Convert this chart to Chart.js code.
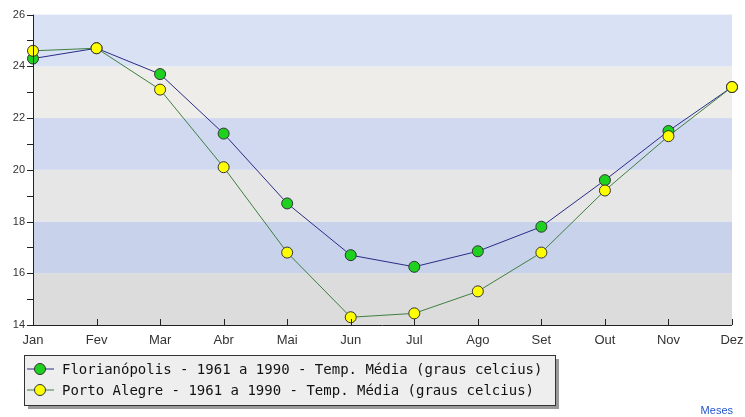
<!DOCTYPE html>
<html lang="pt">
<head>
  <meta charset="UTF-8">
  <title>Temperatura média</title>
  <script src="https://cdn.jsdelivr.net/npm/chart.js"></script>
  <style>
    html, body { margin: 0; padding: 0; background: #fff; }
    #wrap { position: relative; width: 745px; height: 417px; }
  </style>
</head>
<body>
  <div id="wrap"><canvas id="myChart" width="745" height="417"></canvas></div>

  <script>
    // meses e valores
    const meses = ['Jan', 'Fev', 'Mar', 'Abr', 'Mai', 'Jun', 'Jul', 'Ago', 'Set', 'Out', 'Nov', 'Dez'];
    const florianopolis = [24.3, 24.7, 23.7, 21.4, 18.7, 16.7, 16.25, 16.85, 17.8, 19.6, 21.5, 23.2];
    const portoAlegre = [24.6, 24.7, 23.1, 20.1, 16.8, 14.3, 14.45, 15.3, 16.8, 19.2, 21.3, 23.2];
    const nomes = [
      'Florianópolis - 1961 a 1990 - Temp. Média (graus celcius)',
      'Porto Alegre - 1961 a 1990 - Temp. Média (graus celcius)'
    ];
    const faixas = [14, 16, 18, 20, 22, 24, 26];
    const coresFaixas = ['#dcdcdc', '#c8d2ea', '#e6e6e6', '#d0d9f0', '#eeede9', '#d9e1f5'];

    // faixas de fundo
    const fundo = {
      id: 'fundo',
      beforeDatasetsDraw(chart) {
        const { ctx, chartArea: a, scales: { y } } = chart;
        ctx.save();
        for (let i = 0; i < faixas.length - 1; i++) {
          const y0 = y.getPixelForValue(faixas[i]);
          const y1 = y.getPixelForValue(faixas[i + 1]);
          ctx.fillStyle = coresFaixas[i];
          ctx.fillRect(a.left, y1, a.right - a.left, y0 - y1);
        }
        ctx.restore();
      },
      afterDatasetsDraw(chart) {
        const { ctx, chartArea: a, scales: { x, y } } = chart;
        ctx.save();
        ctx.strokeStyle = '#222';
        ctx.lineWidth = 1;
        // eixo y
        ctx.beginPath();
        ctx.moveTo(a.left + 0.5, a.top);
        ctx.lineTo(a.left + 0.5, a.bottom);
        for (let v = 14; v <= 26; v++) {
          const py = Math.round(y.getPixelForValue(v)) + 0.5;
          ctx.moveTo(a.left - 6, py);
          ctx.lineTo(a.left, py);
        }
        // eixo x, marcas para dentro
        ctx.moveTo(a.left, a.bottom + 0.5);
        ctx.lineTo(a.right, a.bottom + 0.5);
        meses.forEach((m, i) => {
          const px = Math.round(x.getPixelForValue(i)) + 0.5;
          ctx.moveTo(px, a.bottom);
          ctx.lineTo(px, a.bottom - 6);
        });
        ctx.stroke();
        ctx.restore();
      },
      afterDraw(chart) {
        const { ctx } = chart;
        const ds = chart.data.datasets;
        ctx.save();
        // legenda com sombra
        const lx = 24, ly = 355, lw = 531, lh = 50;
        ctx.fillStyle = '#9a9a9a';
        ctx.fillRect(lx + 4, ly + 4, lw, lh);
        ctx.fillStyle = '#eeeeee';
        ctx.fillRect(lx, ly, lw, lh);
        ctx.strokeStyle = '#333';
        ctx.lineWidth = 1;
        ctx.strokeRect(lx + 0.5, ly + 0.5, lw, lh);
        ctx.font = '14px "DejaVu Sans Mono", monospace';
        ctx.textBaseline = 'middle';
        ds.forEach((d, i) => {
          const cy = ly + 14 + i * 21;
          ctx.strokeStyle = d.borderColor;
          ctx.beginPath();
          ctx.moveTo(lx + 3, cy);
          ctx.lineTo(lx + 30, cy);
          ctx.stroke();
          ctx.beginPath();
          ctx.arc(lx + 16, cy, 5.5, 0, Math.PI * 2);
          ctx.fillStyle = d.pointBackgroundColor;
          ctx.fill();
          ctx.strokeStyle = '#333';
          ctx.stroke();
          ctx.fillStyle = '#111';
          ctx.fillText(d.label, lx + 38, cy + 1);
        });
        // titulo do eixo x
        ctx.font = '11px "Liberation Sans", Arial, sans-serif';
        ctx.fillStyle = '#2255cc';
        ctx.textAlign = 'right';
        ctx.textBaseline = 'alphabetic';
        ctx.fillText('Meses', 733, 414);
        ctx.restore();
      }
    };

    const ctx = document.getElementById('myChart').getContext('2d');
    const myChart = new Chart(ctx, {
      type: 'line',
      data: {
        labels: meses,
        datasets: [
          {
            label: nomes[0],
            data: florianopolis,
            borderColor: '#2a2d86',
            borderWidth: 1,
            pointRadius: 5.5,
            pointBackgroundColor: '#1fd11f',
            pointBorderColor: '#333',
            pointBorderWidth: 1,
            tension: 0,
            order: 1
          },
          {
            label: nomes[1],
            data: portoAlegre,
            borderColor: '#3f7f3f',
            borderWidth: 1,
            pointRadius: 5.5,
            pointBackgroundColor: '#ffff00',
            pointBorderColor: '#333',
            pointBorderWidth: 1,
            tension: 0,
            order: 0
          }
        ]
      },
      options: {
        responsive: false,
        animation: false,
        layout: { padding: { top: 14, right: 0, left: 0, bottom: 0 } },
        plugins: {
          legend: { display: false },
          tooltip: { enabled: false }
        },
        scales: {
          x: {
            offset: false,
            grid: { display: false, drawTicks: false },
            border: { display: false },
            ticks: {
              color: '#333',
              font: { family: '"Liberation Sans", Arial, sans-serif', size: 13 },
              padding: 8,
              maxRotation: 0,
              autoSkip: false
            },
            afterFit(scale) {
              scale.height = 92;
              scale.paddingRight = 13;
              scale.paddingLeft = 0;
            }
          },
          y: {
            min: 14,
            max: 26,
            grid: { display: false, drawTicks: false },
            border: { display: false },
            ticks: {
              stepSize: 2,
              color: '#333',
              font: { family: '"Liberation Sans", Arial, sans-serif', size: 11 },
              padding: 8
            },
            afterFit(scale) { scale.width = 33; }
          }
        }
      },
      plugins: [fundo]
    });
  </script>
</body>
</html>
